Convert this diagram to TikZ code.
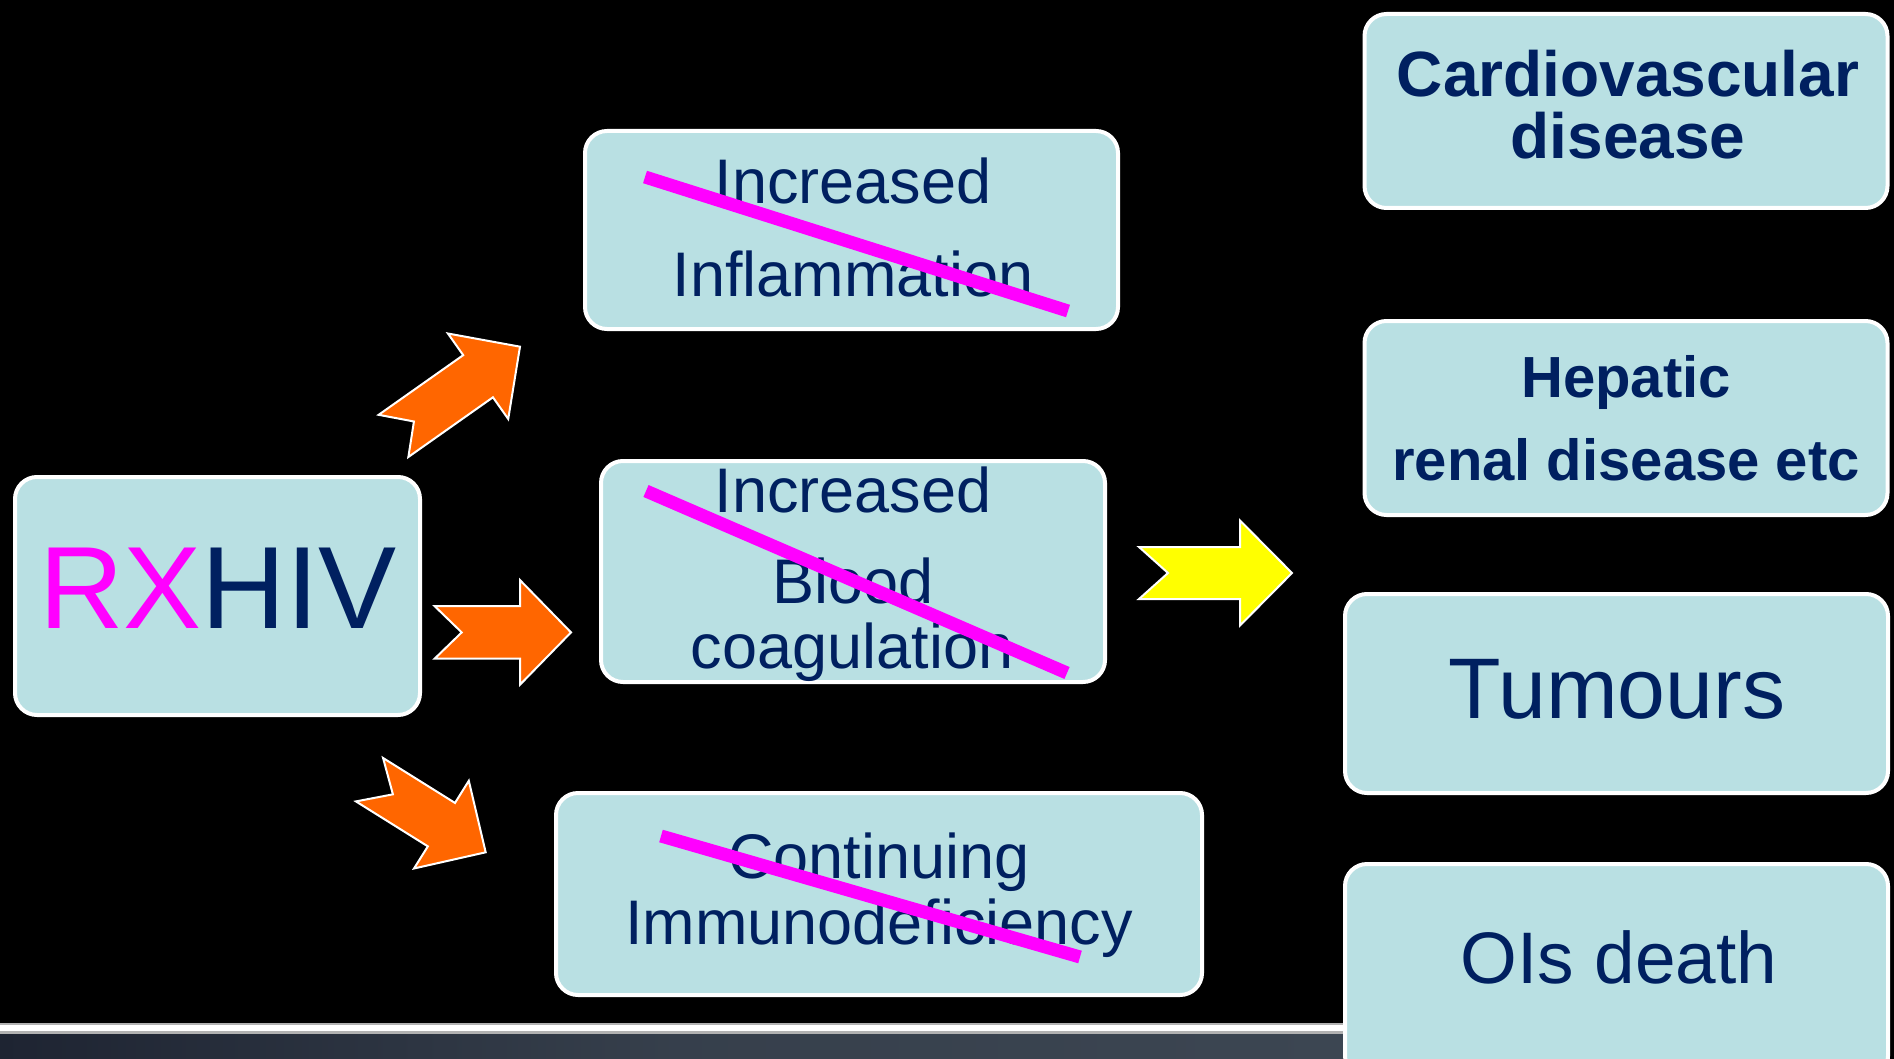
\documentclass[tikz,border=0pt]{standalone}
\usepackage{fontspec}
\setmainfont{Liberation Sans}
\definecolor{boxfill}{HTML}{B9E0E3}
\definecolor{navy}{HTML}{002060}
\definecolor{hotpink}{HTML}{FF00FF}
\definecolor{arrorange}{HTML}{FF6600}
\definecolor{arryellow}{HTML}{FFFF00}
\definecolor{stripdark}{HTML}{1E2432}
\definecolor{stripmid}{HTML}{3C4652}
\tikzset{
  box/.style={draw=white, line width=4pt, fill=boxfill, rounded corners=22pt, inner sep=0pt},
  txt/.style={inner sep=0pt, anchor=base, text=navy},
  strikeline/.style={draw=hotpink, line width=13pt},
  blockarrow/.style={draw=white, line width=2pt, line join=miter},
}
% #1 fill, #2 #3 tail centre, #4 angle, #5 length, #6 shaft half width,
% #7 head half width, #8 head length, #9 notch depth
\newcommand{\blockarr}[9]{%
  \begin{scope}[shift={(#2,#3)}, rotate=#4]
    \draw[blockarrow, fill=#1] (0,-#6) -- ({#5-#8},-#6) -- ({#5-#8},-#7) -- (#5,0)
      -- ({#5-#8},#7) -- ({#5-#8},#6) -- (0,#6) -- (#9,0) -- cycle;
  \end{scope}}
\begin{document}
\begin{tikzpicture}[x=1pt, y=-1pt]
\useasboundingbox (0,0) rectangle (1894,1059);
\begin{scope}
\clip (0,0) rectangle (1894,1059);
\fill[black] (0,0) rectangle (1894,1059);
% bottom strip
\shade[left color=stripdark, right color=stripmid, middle color=stripmid!80!stripdark] (0,1032) rectangle (1343,1059);
\fill[gray!60] (0,1023) rectangle (1343,1034);
\fill[white] (0,1025) rectangle (1343,1031);

% boxes
\node[box, minimum width=405pt, minimum height=238pt] (rx) at (217.5,596) {};
\node[box, minimum width=533pt, minimum height=198pt] (infl) at (851.5,230) {};
\node[box, minimum width=504pt, minimum height=221pt] (blood) at (853,571.5) {};
\node[box, minimum width=646pt, minimum height=202pt] (immuno) at (879,894) {};
\node[box, minimum width=523pt, minimum height=194pt] (cardio) at (1626,111) {};
\node[box, minimum width=523pt, minimum height=194pt] (hepatic) at (1626,418) {};
\node[box, minimum width=543pt, minimum height=199pt] (tumours) at (1616.5,693.5) {};
\node[box, minimum width=543pt, minimum height=214pt] (ois) at (1616.5,971) {};

% texts
\node[txt, font=\fontsize{117}{120}\selectfont] (rxtext) at (218,628) {\textcolor{hotpink}{RX}HIV};

\node[txt, font=\fontsize{63}{70}\selectfont] (infl1) at (853,204) {Increased};
\node[txt, font=\fontsize{63}{70}\selectfont] (infl2) at (853,296) {Inflammation};

\node[txt, font=\fontsize{63}{70}\selectfont] (blood1) at (853,512) {Increased};
\node[txt, font=\fontsize{63}{70}\selectfont] (blood2) at (853,603) {Blood};
\node[txt, font=\fontsize{63}{70}\selectfont] (blood3) at (852,668) {coagulation};

\node[txt, font=\fontsize{63}{70}\selectfont] (imm1) at (879,878) {Continuing};
\node[txt, font=\fontsize{63}{70}\selectfont] (imm2) at (879,944) {Immunodeficiency};

\node[txt, font=\fontsize{64}{70}\selectfont\bfseries] (cardio1) at (1628,97) {Cardiovascular};
\node[txt, font=\fontsize{64}{70}\selectfont\bfseries] (cardio2) at (1628,159) {disease};

\node[txt, font=\fontsize{58}{64}\selectfont\bfseries] (hep1) at (1626,397) {Hepatic};
\node[txt, font=\fontsize{58}{64}\selectfont\bfseries] (hep2) at (1626,480) {renal disease etc};

\node[txt, font=\fontsize{86}{90}\selectfont] (tum) at (1617,718) {Tumours};
\node[txt, font=\fontsize{73}{80}\selectfont] (oistext) at (1619,983) {OIs death};

% strike-through lines
\coordinate (s1a) at (645,177);  \coordinate (s1b) at (1068,311);
\coordinate (s2a) at (646,491);  \coordinate (s2b) at (1067,673);
\coordinate (s3a) at (661,836);  \coordinate (s3b) at (1080,957);
\draw[strikeline] (s1a) -- (s1b);
\draw[strikeline] (s2a) -- (s2b);
\draw[strikeline] (s3a) -- (s3b);

% block arrows
\blockarr{arrorange}{393.5}{435.9}{35.2}{154.8}{25.8}{52.3}{51.3}{25}
\blockarr{arrorange}{434.7}{632.4}{0}{136.3}{26.2}{52.3}{51}{27}
\blockarr{arrorange}{369.5}{779.7}{-32}{137}{25.6}{51.7}{52.2}{27.6}
\blockarr{arryellow}{1139}{573}{0}{153}{26}{52.5}{52}{29}
\end{scope}
\end{tikzpicture}
\end{document}
